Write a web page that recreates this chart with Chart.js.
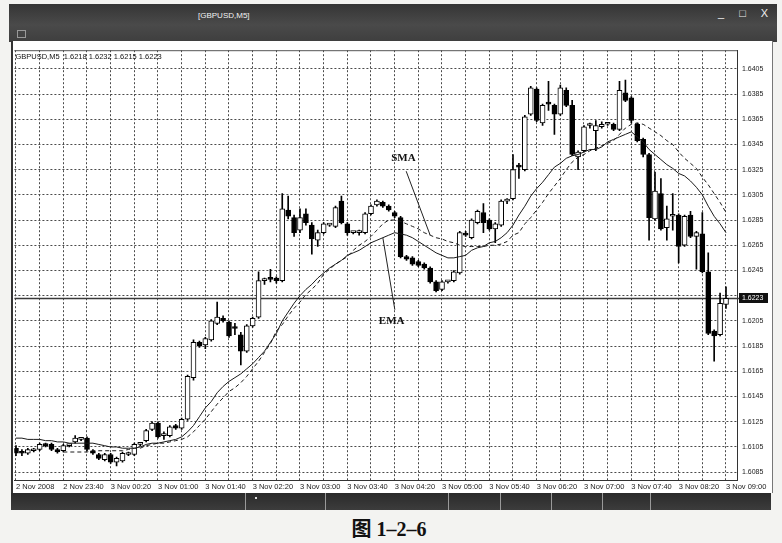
<!DOCTYPE html>
<html>
<head>
<meta charset="utf-8">
<script src="https://cdn.jsdelivr.net/npm/chart.js@4.4.0/dist/chart.umd.min.js"></script>
<style>
  body { margin: 0; width: 782px; height: 543px; background: #f3f3f1; position: relative; overflow: hidden; font-family: "Liberation Sans", sans-serif; }
  .abs { position: absolute; }
  #barraTitulo { left: 9px; top: 4px; width: 768px; height: 38px; background: linear-gradient(#353535, #4a4a4a 55%, #3e3e3e); }
  #titulo { left: 198px; top: 11px; color: #f2f2f2; font-size: 8px; }
  #botones { left: 718px; top: 7px; color: #eee; font-size: 11px; letter-spacing: 6px; }
  #icono { left: 17px; top: 30px; width: 7px; height: 6px; border: 1px solid #999; }
  #fondo { left: 11px; top: 41px; width: 759px; height: 452px; background: #fff; border-left: 2px solid #333; border-right: 1px solid #777; }
  #barraInferior { left: 11px; top: 493px; width: 760px; height: 17px; background: linear-gradient(#2a2a2a, #3c3c3c); }
  .sep { top: 0; width: 1px; height: 17px; background: #9a9a9a; }
  #pie { left: 0; width: 778px; top: 513px; text-align: center; font-family: "Liberation Serif", "Noto Sans CJK SC", serif; font-weight: bold; font-size: 20px; color: #111; }
</style>
</head>
<body>
<div id="barraTitulo" class="abs"></div>
<div id="titulo" class="abs">[GBPUSD,M5]</div>
<div id="botones" class="abs">_ □ X</div>
<div id="icono" class="abs"></div>
<div id="fondo" class="abs"></div>
<canvas id="chart" class="abs" width="756" height="452" style="left:14px; top:41px;"></canvas>
<div id="barraInferior" class="abs">
  <div class="sep abs" style="left:234px"></div>
  <div class="sep abs" style="left:314px"></div>
  <div class="sep abs" style="left:437px"></div>
  <div class="sep abs" style="left:489px"></div>
  <div class="sep abs" style="left:540px"></div>
  <div class="sep abs" style="left:591px"></div>
  <div class="sep abs" style="left:639px"></div>
  <div class="abs" style="left:244px; top:4px; width:2px; height:2px; background:#ddd"></div>
</div>
<div id="pie" class="abs">图 1–2–6</div>

<script>
// Datos del gráfico GBPUSD M5
const symbol = 'GBPUSD,M5';

// Etiquetas de tiempo, una cada 8 velas (40 minutos)
const timeLabels = ['2 Nov 2008', '2 Nov 23:40', '3 Nov 00:20', '3 Nov 01:00', '3 Nov 01:40', '3 Nov 02:20',
    '3 Nov 03:00', '3 Nov 03:40', '3 Nov 04:20', '3 Nov 05:00', '3 Nov 05:40', '3 Nov 06:20',
    '3 Nov 07:00', '3 Nov 07:40', '3 Nov 08:20', '3 Nov 09:00'];

// Marcas de precio del eje derecho
const priceTicks = [1.6085, 1.6105, 1.6125, 1.6145, 1.6165, 1.6185, 1.6205, 1.6225, 1.6245,
    1.6265, 1.6285, 1.6305, 1.6325, 1.6345, 1.6365, 1.6385, 1.6405];

const openP = [
    1.6104, 1.6101, 1.6100, 1.6102, 1.6103, 1.6107, 1.6107, 1.6103, 1.6102, 1.6106,
    1.6109, 1.6111, 1.6112, 1.6102, 1.6099, 1.6095, 1.6099, 1.6093, 1.6094, 1.6099,
    1.6099, 1.6107, 1.6110, 1.6119, 1.6124, 1.6114, 1.6114, 1.6122, 1.6120, 1.6127,
    1.6160, 1.6188, 1.6186, 1.6190, 1.6203, 1.6207, 1.6204, 1.6200, 1.6194, 1.6181,
    1.6201, 1.6208, 1.6237, 1.6239, 1.6239, 1.6237, 1.6293, 1.6287, 1.6277, 1.6290,
    1.6281, 1.6269, 1.6275, 1.6281, 1.6280, 1.6300, 1.6282, 1.6275, 1.6275, 1.6275,
    1.6290, 1.6297, 1.6299, 1.6296, 1.6291, 1.6287, 1.6256, 1.6255, 1.6252, 1.6250,
    1.6247, 1.6236, 1.6230, 1.6236, 1.6237, 1.6243, 1.6274, 1.6271, 1.6283, 1.6291,
    1.6285, 1.6278, 1.6281, 1.6300, 1.6302, 1.6328, 1.6325, 1.6369, 1.6389, 1.6362,
    1.6378, 1.6376, 1.6369, 1.6388, 1.6376, 1.6335, 1.6340, 1.6360, 1.6356, 1.6359,
    1.6361, 1.6361, 1.6357, 1.6386, 1.6382, 1.6361, 1.6349, 1.6337, 1.6286, 1.6306,
    1.6279, 1.6288, 1.6289, 1.6265, 1.6289, 1.6272, 1.6274, 1.6244, 1.6197, 1.6194,
    1.6218];
const highP = [
    1.6106, 1.6103, 1.6104, 1.6104, 1.6108, 1.6108, 1.6108, 1.6104, 1.6107, 1.6107,
    1.6114, 1.6112, 1.6113, 1.6103, 1.6100, 1.6100, 1.6100, 1.6097, 1.6101, 1.6101,
    1.6108, 1.6108, 1.6119, 1.6125, 1.6125, 1.6117, 1.6122, 1.6123, 1.6128, 1.6162,
    1.6190, 1.6189, 1.6192, 1.6206, 1.6220, 1.6209, 1.6205, 1.6203, 1.6196, 1.6202,
    1.6208, 1.6244, 1.6239, 1.6246, 1.6240, 1.6306, 1.6304, 1.6289, 1.6294, 1.6294,
    1.6283, 1.6277, 1.6283, 1.6282, 1.6296, 1.6304, 1.6283, 1.6276, 1.6277, 1.6291,
    1.6297, 1.6301, 1.6300, 1.6297, 1.6292, 1.6288, 1.6257, 1.6256, 1.6253, 1.6251,
    1.6248, 1.6237, 1.6237, 1.6237, 1.6245, 1.6276, 1.6276, 1.6286, 1.6293, 1.6298,
    1.6286, 1.6283, 1.6301, 1.6302, 1.6337, 1.6330, 1.6368, 1.6391, 1.6390, 1.6377,
    1.6395, 1.6377, 1.6392, 1.6390, 1.6380, 1.6340, 1.6360, 1.6362, 1.6364, 1.6363,
    1.6362, 1.6362, 1.6395, 1.6396, 1.6383, 1.6362, 1.6350, 1.6338, 1.6323, 1.6318,
    1.6296, 1.6306, 1.6290, 1.6289, 1.6292, 1.6276, 1.6291, 1.6259, 1.6198, 1.6227,
    1.6232];
const lowP = [
    1.6098, 1.6098, 1.6099, 1.6101, 1.6102, 1.6105, 1.6102, 1.6100, 1.6101, 1.6105,
    1.6108, 1.6110, 1.6102, 1.6099, 1.6095, 1.6094, 1.6092, 1.6090, 1.6093, 1.6098,
    1.6098, 1.6106, 1.6109, 1.6118, 1.6112, 1.6111, 1.6113, 1.6119, 1.6119, 1.6126,
    1.6158, 1.6184, 1.6183, 1.6189, 1.6202, 1.6204, 1.6192, 1.6194, 1.6170, 1.6180,
    1.6200, 1.6207, 1.6234, 1.6236, 1.6235, 1.6236, 1.6286, 1.6272, 1.6275, 1.6281,
    1.6258, 1.6264, 1.6274, 1.6280, 1.6279, 1.6282, 1.6273, 1.6274, 1.6273, 1.6274,
    1.6289, 1.6296, 1.6295, 1.6292, 1.6287, 1.6255, 1.6253, 1.6249, 1.6248, 1.6246,
    1.6235, 1.6228, 1.6229, 1.6235, 1.6236, 1.6242, 1.6272, 1.6270, 1.6282, 1.6275,
    1.6277, 1.6267, 1.6280, 1.6298, 1.6301, 1.6318, 1.6324, 1.6368, 1.6363, 1.6360,
    1.6372, 1.6353, 1.6368, 1.6375, 1.6336, 1.6325, 1.6339, 1.6358, 1.6340, 1.6358,
    1.6360, 1.6356, 1.6356, 1.6379, 1.6362, 1.6347, 1.6335, 1.6269, 1.6285, 1.6277,
    1.6269, 1.6277, 1.6251, 1.6264, 1.6271, 1.6246, 1.6243, 1.6194, 1.6173, 1.6193,
    1.6215];
const closeP = [
    1.6100, 1.6100, 1.6103, 1.6103, 1.6107, 1.6106, 1.6103, 1.6101, 1.6106, 1.6106,
    1.6112, 1.6111, 1.6103, 1.6100, 1.6096, 1.6099, 1.6093, 1.6096, 1.6100, 1.6099,
    1.6107, 1.6107, 1.6118, 1.6124, 1.6113, 1.6114, 1.6121, 1.6120, 1.6127, 1.6161,
    1.6188, 1.6185, 1.6191, 1.6205, 1.6208, 1.6205, 1.6193, 1.6199, 1.6181, 1.6201,
    1.6207, 1.6237, 1.6237, 1.6238, 1.6237, 1.6294, 1.6288, 1.6275, 1.6287, 1.6283,
    1.6270, 1.6275, 1.6282, 1.6281, 1.6295, 1.6283, 1.6275, 1.6275, 1.6275, 1.6290,
    1.6296, 1.6300, 1.6296, 1.6293, 1.6288, 1.6256, 1.6254, 1.6250, 1.6249, 1.6247,
    1.6236, 1.6229, 1.6236, 1.6236, 1.6244, 1.6275, 1.6273, 1.6285, 1.6292, 1.6283,
    1.6278, 1.6282, 1.6300, 1.6300, 1.6325, 1.6327, 1.6367, 1.6390, 1.6364, 1.6376,
    1.6377, 1.6369, 1.6390, 1.6376, 1.6337, 1.6339, 1.6359, 1.6360, 1.6360, 1.6361,
    1.6361, 1.6357, 1.6388, 1.6380, 1.6364, 1.6348, 1.6337, 1.6287, 1.6308, 1.6278,
    1.6286, 1.6288, 1.6264, 1.6288, 1.6272, 1.6275, 1.6244, 1.6195, 1.6193, 1.6219,
    1.6223];

// Media exponencial (línea continua)
const emaLine = [
    1.6112, 1.6112, 1.6111, 1.6111, 1.6111, 1.6110, 1.6110, 1.6109, 1.6109, 1.6108,
    1.6108, 1.6108, 1.6108, 1.6108, 1.6107, 1.6106, 1.6105, 1.6105, 1.6104, 1.6104,
    1.6104, 1.6105, 1.6107, 1.6108, 1.6108, 1.6109, 1.6110, 1.6111, 1.6113, 1.6117,
    1.6122, 1.6129, 1.6136, 1.6141, 1.6148, 1.6153, 1.6157, 1.6160, 1.6163, 1.6167,
    1.6171, 1.6176, 1.6181, 1.6188, 1.6195, 1.6205, 1.6212, 1.6219, 1.6225, 1.6230,
    1.6234, 1.6239, 1.6243, 1.6247, 1.6250, 1.6253, 1.6257, 1.6259, 1.6261, 1.6264,
    1.6267, 1.6269, 1.6271, 1.6273, 1.6275, 1.6274, 1.6273, 1.6271, 1.6268, 1.6265,
    1.6262, 1.6259, 1.6257, 1.6255, 1.6255, 1.6256, 1.6257, 1.6261, 1.6263, 1.6264,
    1.6267, 1.6268, 1.6271, 1.6275, 1.6281, 1.6289, 1.6296, 1.6304, 1.6310, 1.6315,
    1.6321, 1.6327, 1.6330, 1.6334, 1.6336, 1.6337, 1.6339, 1.6341, 1.6341, 1.6343,
    1.6347, 1.6349, 1.6351, 1.6353, 1.6355, 1.6351, 1.6347, 1.6341, 1.6337, 1.6333,
    1.6329, 1.6326, 1.6322, 1.6320, 1.6316, 1.6311, 1.6305, 1.6296, 1.6288, 1.6282,
    1.6275];

// Media simple (línea discontinua), empieza más tarde
const smaLine = [
    null, null, null, null, null, null, null, null, 1.6101, 1.6101,
    1.6101, 1.6101, 1.6101, 1.6102, 1.6102, 1.6102, 1.6102, 1.6102, 1.6102, 1.6103,
    1.6104, 1.6104, 1.6106, 1.6107, 1.6108, 1.6108, 1.6109, 1.6110, 1.6111, 1.6113,
    1.6117, 1.6122, 1.6127, 1.6133, 1.6139, 1.6144, 1.6149, 1.6152, 1.6156, 1.6161,
    1.6167, 1.6173, 1.6180, 1.6187, 1.6197, 1.6202, 1.6209, 1.6215, 1.6220, 1.6226,
    1.6230, 1.6235, 1.6242, 1.6246, 1.6250, 1.6253, 1.6256, 1.6261, 1.6265, 1.6268,
    1.6272, 1.6277, 1.6282, 1.6285, 1.6285, 1.6284, 1.6282, 1.6280, 1.6278, 1.6275,
    1.6273, 1.6271, 1.6270, 1.6268, 1.6267, 1.6265, 1.6264, 1.6264, 1.6264, 1.6264,
    1.6265, 1.6265, 1.6266, 1.6268, 1.6273, 1.6275, 1.6282, 1.6287, 1.6293, 1.6299,
    1.6306, 1.6312, 1.6318, 1.6325, 1.6331, 1.6335, 1.6337, 1.6340, 1.6342, 1.6344,
    1.6346, 1.6348, 1.6353, 1.6358, 1.6361, 1.6362, 1.6361, 1.6358, 1.6355, 1.6352,
    1.6348, 1.6345, 1.6339, 1.6334, 1.6330, 1.6326, 1.6319, 1.6313, 1.6306, 1.6299,
    1.6291];

const lastBar = closeP.length - 1;
const bodyColors = openP.map((o, i) => closeP[i] >= o ? '#ffffff' : '#000000');

// Dibuja la línea de precio, la cabecera y las etiquetas SMA / EMA
const marcoPlugin = {
    id: 'marco',
    beforeDatasetsDraw(chart) {
        const {ctx, chartArea, scales} = chart;
        const py = Math.round(scales.y.getPixelForValue(closeP[lastBar])) + 0.5;
        ctx.save();
        ctx.strokeStyle = '#3a3a3a';
        ctx.lineWidth = 1.5;
        ctx.beginPath();
        ctx.moveTo(chartArea.left, py);
        ctx.lineTo(chartArea.right + 3, py);
        ctx.stroke();
        ctx.restore();
    },
    afterDraw(chart) {
        const {ctx, chartArea, scales} = chart;
        const xs = scales.x, ys = scales.y;
        ctx.save();

        // borde superior del área
        ctx.strokeStyle = '#555';
        ctx.lineWidth = 1;
        ctx.beginPath();
        ctx.moveTo(chartArea.left, chartArea.top + 0.5);
        ctx.lineTo(chartArea.right, chartArea.top + 0.5);
        ctx.stroke();

        // cabecera con OHLC de la última vela
        ctx.fillStyle = '#111';
        ctx.font = '7.5px "Liberation Sans"';
        ctx.textBaseline = 'middle';
        const ohlc = [openP[lastBar], highP[lastBar], lowP[lastBar], closeP[lastBar]].map(v => v.toFixed(4)).join(' ');
        ctx.fillText(symbol + '  ' + ohlc, chartArea.left + 1, chartArea.top + 7);

        // etiqueta del precio actual
        const py = Math.round(ys.getPixelForValue(closeP[lastBar]));
        ctx.font = '7px "Liberation Sans"';
        ctx.fillStyle = '#111';
        ctx.fillRect(chartArea.right + 2, py - 5, 29, 10);
        ctx.fillStyle = '#fff';
        ctx.fillText(closeP[lastBar].toFixed(4), chartArea.right + 5, py);

        // anotaciones
        ctx.strokeStyle = '#222';
        ctx.lineWidth = 1;
        ctx.fillStyle = '#111';
        ctx.font = 'bold 11px "Liberation Serif"';
        ctx.textBaseline = 'alphabetic';

        const sx = xs.getPixelForValue(70), sy = ys.getPixelForValue(smaLine[70]);
        ctx.beginPath();
        ctx.moveTo(sx - 24, sy - 64);
        ctx.lineTo(sx, sy);
        ctx.stroke();
        ctx.fillText('SMA', sx - 39, sy - 74);

        const ex = xs.getPixelForValue(62), ey = ys.getPixelForValue(emaLine[62]);
        ctx.beginPath();
        ctx.moveTo(ex, ey);
        ctx.lineTo(ex + 12, ey + 72);
        ctx.stroke();
        ctx.fillText('EMA', ex - 4, ey + 86);

        ctx.restore();
    }
};

const ctx = document.getElementById('chart').getContext('2d');
new Chart(ctx, {
    type: 'bar',
    data: {
        datasets: [
            {
                type: 'line',
                label: 'EMA',
                data: emaLine.map((v, i) => ({x: i, y: v})),
                borderColor: '#1a1a1a',
                borderWidth: 1,
                pointRadius: 0,
                order: 0
            },
            {
                type: 'line',
                label: 'SMA',
                data: smaLine.map((v, i) => ({x: i, y: v})),
                borderColor: '#1a1a1a',
                borderWidth: 1,
                borderDash: [4, 3],
                pointRadius: 0,
                spanGaps: false,
                order: 0
            },
            {
                label: 'Cuerpo',
                data: openP.map((o, i) => ({x: i, y: [o, closeP[i]]})),
                backgroundColor: bodyColors,
                borderColor: '#000',
                borderWidth: 1,
                borderSkipped: false,
                barThickness: 5,
                minBarLength: 2,
                grouped: false,
                order: 1
            },
            {
                label: 'Mecha',
                data: lowP.map((l, i) => ({x: i, y: [l, highP[i]]})),
                backgroundColor: '#000',
                borderWidth: 0,
                barThickness: 1,
                minBarLength: 1,
                grouped: false,
                order: 2
            }
        ]
    },
    options: {
        responsive: false,
        animation: false,
        devicePixelRatio: 1,
        layout: {padding: 0},
        plugins: {legend: {display: false}, tooltip: {enabled: false}},
        scales: {
            x: {
                type: 'linear',
                min: -0.27,
                max: 121.86,
                offset: false,
                afterBuildTicks: s => {
                    s.ticks = [];
                    for (let i = 0; i <= lastBar; i += 4) s.ticks.push({value: i});
                },
                afterFit: s => { s.height = 13; },
                grid: {color: '#4a4a4a', lineWidth: 1, drawTicks: false, offset: false},
                border: {display: true, color: '#333', width: 1, dash: [2, 2]},
                ticks: {
                    autoSkip: false,
                    maxRotation: 0,
                    align: 'start',
                    padding: 2,
                    color: '#222',
                    font: {family: 'Liberation Sans', size: 7.5},
                    callback: v => v % 8 === 0 ? timeLabels[v / 8] : ''
                }
            },
            y: {
                position: 'right',
                min: 1.607879,
                max: 1.641976,
                afterBuildTicks: s => { s.ticks = priceTicks.map(v => ({value: v})); },
                afterFit: s => { s.width = 33; },
                grid: {color: '#4a4a4a', lineWidth: 1, drawTicks: false},
                border: {display: true, color: '#333', width: 1, dash: [2, 2]},
                ticks: {
                    padding: 5,
                    color: '#222',
                    font: {family: 'Liberation Sans', size: 7},
                    callback: v => v.toFixed(4)
                }
            }
        }
    },
    plugins: [marcoPlugin]
});
</script>
</body>
</html>
